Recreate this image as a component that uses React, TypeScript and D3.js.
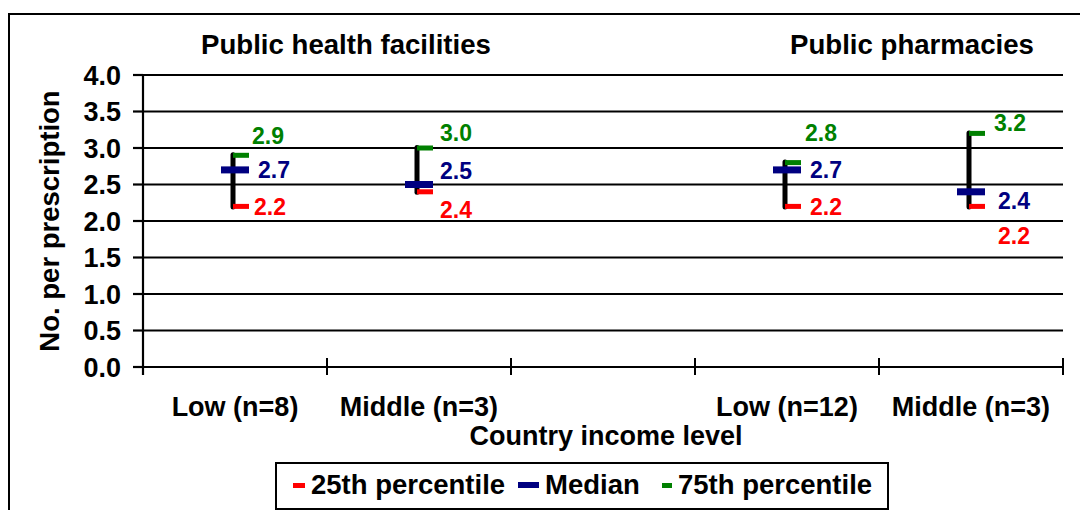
import React from 'react';
import * as d3 from 'd3';

// categories along the x axis (slot 2 is an empty gap between the two panels)
const categories = ['Low (n=8)', 'Middle (n=3)', '', 'Low (n=12)', 'Middle (n=3)'];
const panelTitles = ['Public health facilities', 'Public pharmacies'];

// percentile values per category (null for the empty gap)
const p25 = [2.2, 2.4, null, 2.2, 2.2];
const median = [2.7, 2.5, null, 2.7, 2.4];
const p75 = [2.9, 3.0, null, 2.8, 3.2];

const yTicks = [0, 0.5, 1, 1.5, 2, 2.5, 3, 3.5, 4];

const legendItems = ['25th percentile', 'Median', '75th percentile'];

// layout: nudges for the value labels (dx, dy) so they don't overlap, as in the source
const nudge25 = [[19, 0], [21, 18], null, [23, 0], [27, 29]];
const nudgeMed = [[23, 0], [21, -14], null, [23, 0], [27, 9]];
const nudge75 = [[17, -20], [21, -15], null, [18, -30], [23, -11]];

const RED = '#ff0000';
const BLUE = '#000080';
const GREEN = '#008000';
const FONT = '"Liberation Sans", Arial, sans-serif';

const App = () => {
  const width = 1080;
  const height = 510;
  const plot = { left: 143, right: 1063, top: 75, bottom: 367 };

  const x = d3.scaleBand<number>()
    .domain(d3.range(categories.length))
    .range([plot.left, plot.right])
    .padding(0);

  const y = d3.scaleLinear()
    .domain([0, 4])
    .range([plot.bottom, plot.top]);

  const cx = (i: number) => (x(i) as number) + x.bandwidth() / 2;
  const fmt = d3.format('.1f');

  const boundaries = d3.range(categories.length + 1).map(i =>
    i < categories.length ? (x(i) as number) : plot.right
  );

  return (
    <svg width={width} height={height} style={{ position: 'absolute', left: 0, top: 0 }}
      fontFamily={FONT} fontWeight="bold">
      <rect x={0} y={0} width={width} height={height} fill="#fff" />
      {/* outer frame */}
      <rect x={9} y={14} width={width + 20} height={height + 20} fill="none" stroke="#000" strokeWidth={2} />

      {/* panel titles */}
      <text x={(cx(0) + cx(1)) / 2 + 19} y={54} fontSize={27.6} textAnchor="middle">{panelTitles[0]}</text>
      <text x={(cx(3) + cx(4)) / 2 + 33} y={54} fontSize={27.6} textAnchor="middle">{panelTitles[1]}</text>

      {/* gridlines */}
      {yTicks.map(t => (
        <line key={'g' + t} x1={plot.left} x2={plot.right} y1={y(t)} y2={y(t)} stroke="#000" strokeWidth={2.2} />
      ))}

      {/* y axis */}
      <line x1={plot.left} x2={plot.left} y1={plot.top} y2={plot.bottom + 8} stroke="#000" strokeWidth={2.2} />
      {yTicks.map(t => (
        <g key={'yt' + t}>
          <line x1={plot.left - 10} x2={plot.left} y1={y(t)} y2={y(t)} stroke="#000" strokeWidth={2.2} />
          <text x={121} y={y(t)} dy="0.36em" fontSize={27} textAnchor="end">{fmt(t)}</text>
        </g>
      ))}

      {/* x axis ticks */}
      {boundaries.map((b, i) => (
        <line key={'xt' + i} x1={b} x2={b} y1={plot.bottom - 9} y2={plot.bottom + 8} stroke="#000" strokeWidth={2} />
      ))}
      {categories.map((c, i) => (
        <text key={'xl' + i} x={cx(i)} y={416} fontSize={27} textAnchor="middle">{c}</text>
      ))}

      {/* axis titles */}
      <text x={(plot.left + plot.right) / 2 + 3} y={445} fontSize={27} textAnchor="middle">Country income level</text>
      <text transform="translate(59,221) rotate(-90)" fontSize={27.5} textAnchor="middle">No. per prescription</text>

      {/* high-low marks */}
      {categories.map((_, i) => {
        const lo = p25[i];
        const md = median[i];
        const hi = p75[i];
        if (lo == null || md == null || hi == null) return null;
        const c = cx(i);
        return (
          <g key={'m' + i}>
            <line x1={c - 2} x2={c - 2} y1={y(hi) - 0.5} y2={y(lo) + 0.5} stroke="#000" strokeWidth={5} strokeLinecap="round" />
            <rect x={c - 2} y={y(hi) - 2.5} width={16} height={5} fill={GREEN} />
            <rect x={c - 2} y={y(lo) - 2.5} width={16} height={5} fill={RED} />
            <rect x={c - 14} y={y(md) - 3.5} width={28} height={7} fill={BLUE} />
            <text x={c + nudge75[i]![0]} y={y(hi) + nudge75[i]![1]} dy="0.36em" fontSize={23} fill={GREEN}>{fmt(hi)}</text>
            <text x={c + nudgeMed[i]![0]} y={y(md) + nudgeMed[i]![1]} dy="0.36em" fontSize={23} fill={BLUE}>{fmt(md)}</text>
            <text x={c + nudge25[i]![0]} y={y(lo) + nudge25[i]![1]} dy="0.36em" fontSize={23} fill={RED}>{fmt(lo)}</text>
          </g>
        );
      })}

      {/* legend */}
      <g>
        <rect x={276} y={463} width={612} height={46} fill="#fff" stroke="#000" strokeWidth={2} />
        <rect x={293} y={483} width={12} height={5} fill={RED} />
        <text x={311} y={494} fontSize={27.5}>{legendItems[0]}</text>
        <rect x={518} y={482} width={21} height={6} fill={BLUE} />
        <text x={545} y={494} fontSize={27.5}>{legendItems[1]}</text>
        <rect x={662} y={483} width={10} height={5} fill={GREEN} />
        <text x={678} y={494} fontSize={27.5}>{legendItems[2]}</text>
      </g>
    </svg>
  );
};

export default App;
